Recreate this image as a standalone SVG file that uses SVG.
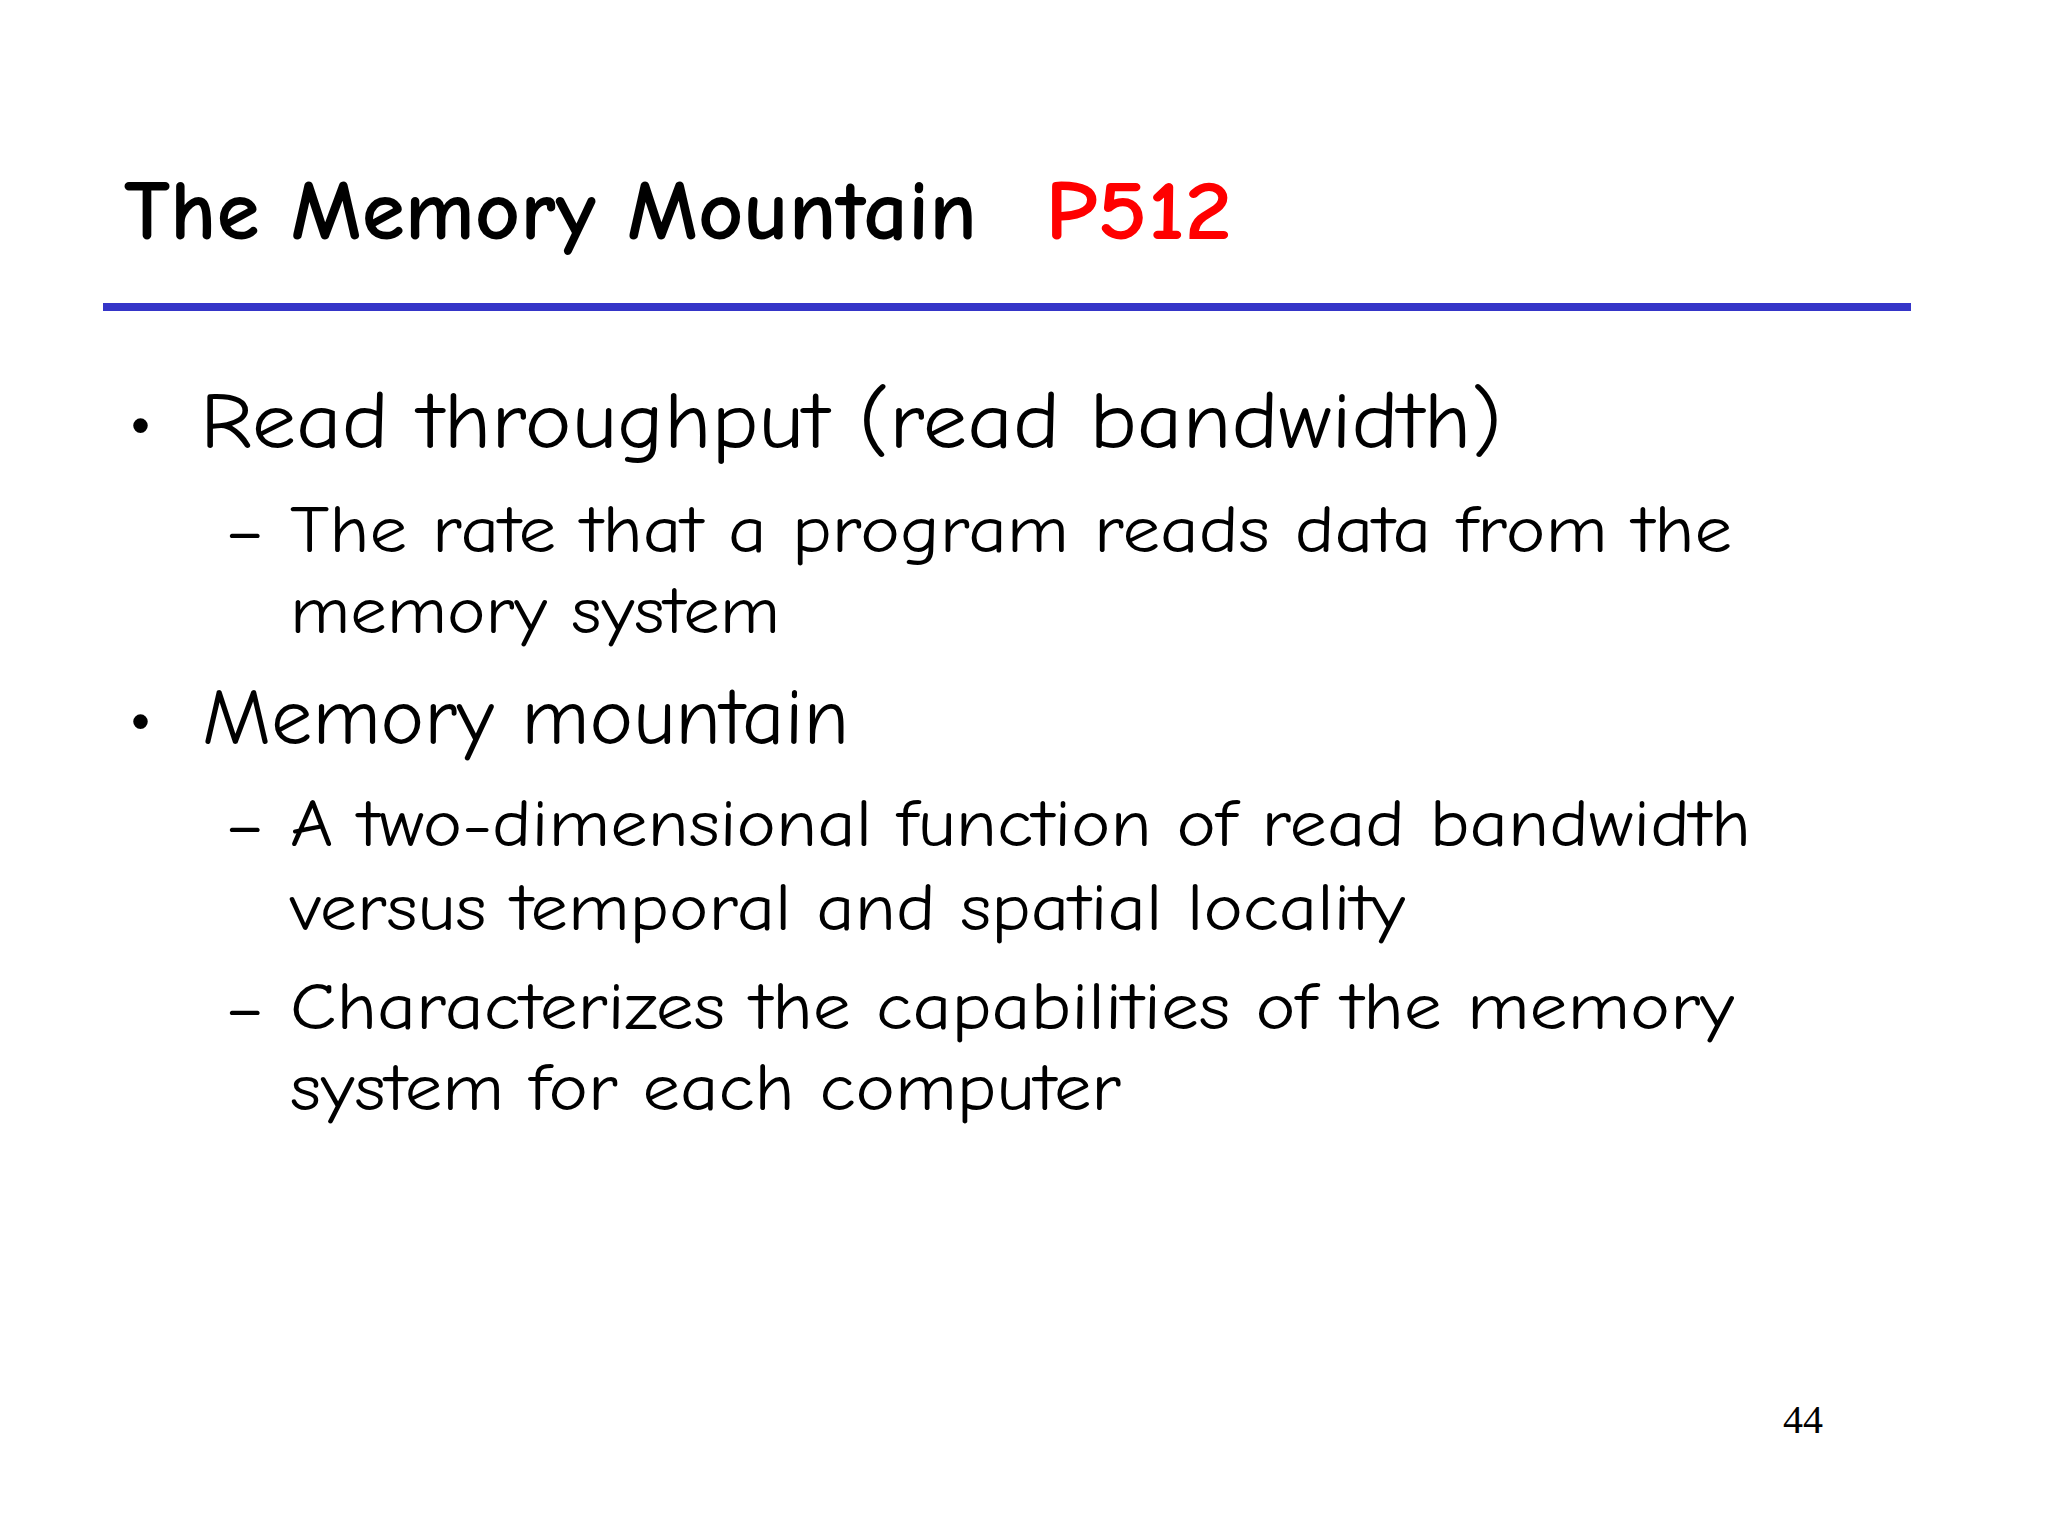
<svg xmlns="http://www.w3.org/2000/svg" width="2048" height="1536" viewBox="0 0 2048 1536">
<style>
.t{font-family:"Comic Neue","Noto Sans","DejaVu Sans",sans-serif;fill:#000}
.h{font-weight:bold;font-size:84px}
.b1{font-size:80px}
.b2{font-size:66px}
</style>
<rect width="2048" height="1536" fill="#fff"/>
<g id="title">
<text class="t h" x="124" y="239" textLength="853" lengthAdjust="spacingAndGlyphs">The Memory Mountain</text>
<text class="t h" x="1045" y="239" fill="#f00" style="fill:#f00" textLength="187" lengthAdjust="spacingAndGlyphs">P512</text>
<line x1="103" y1="307" x2="1911" y2="307" stroke="#3535c8" stroke-width="8"/>
</g>
<g id="body">
<text class="t b1" x="128" y="446">•</text>
<text class="t b1" x="200" y="448" textLength="1302" lengthAdjust="spacingAndGlyphs">Read  throughput (read bandwidth)</text>
<text class="t b2" x="225" y="552">–</text>
<text class="t b2" x="290" y="552" textLength="1442" lengthAdjust="spacingAndGlyphs">The rate that a program reads data from the</text>
<text class="t b2" x="290" y="633" textLength="490" lengthAdjust="spacingAndGlyphs">memory system</text>
<text class="t b1" x="128" y="742">•</text>
<text class="t b1" x="202" y="744" textLength="647" lengthAdjust="spacingAndGlyphs">Memory mountain</text>
<text class="t b2" x="225" y="846">–</text>
<text class="t b2" x="290" y="846" textLength="1461" lengthAdjust="spacingAndGlyphs">A two-dimensional function of read bandwidth</text>
<text class="t b2" x="290" y="930" textLength="1115" lengthAdjust="spacingAndGlyphs">versus temporal and spatial locality</text>
<text class="t b2" x="225" y="1029">–</text>
<text class="t b2" x="290" y="1029" textLength="1444" lengthAdjust="spacingAndGlyphs">Characterizes the capabilities of the memory</text>
<text class="t b2" x="290" y="1110" textLength="831" lengthAdjust="spacingAndGlyphs">system for each computer</text>
<text x="1783" y="1433" font-family="Liberation Serif, serif" font-size="40" textLength="40" lengthAdjust="spacingAndGlyphs">44</text>
</g>
</svg>
